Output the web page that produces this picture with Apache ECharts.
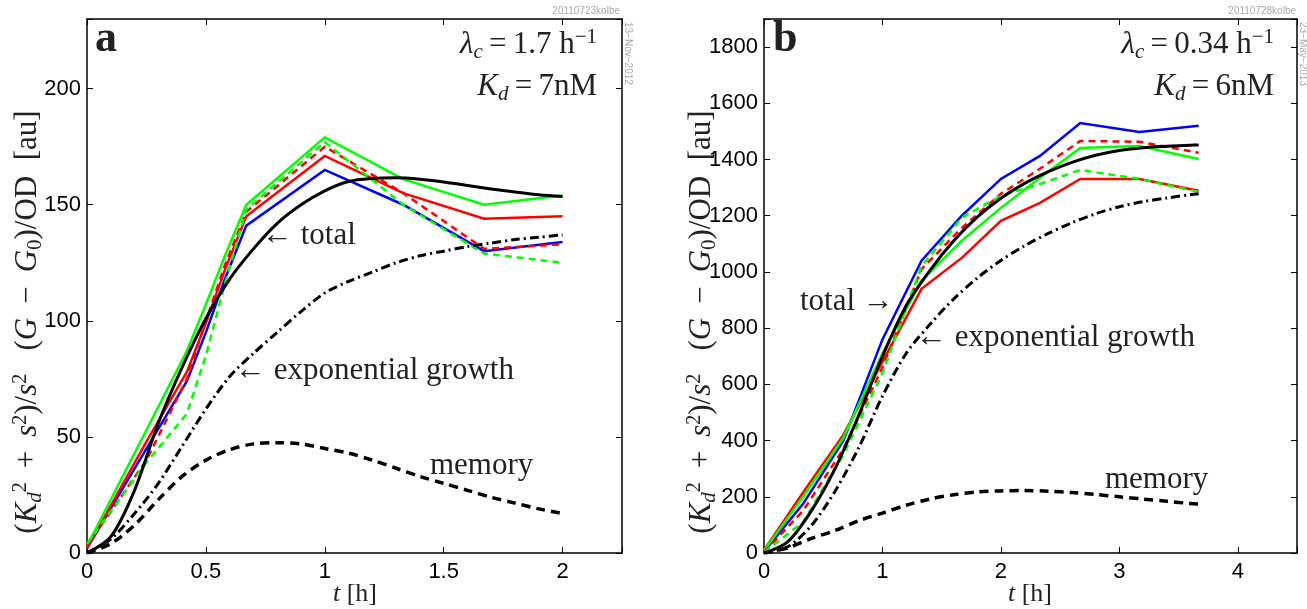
<!DOCTYPE html>
<html>
<head>
<meta charset="utf-8">
<script src="https://cdn.jsdelivr.net/npm/echarts@6/dist/echarts.min.js"></script>
<style>
html, body { margin: 0; background: #fff; }
#main { width: 1307px; height: 609px; }
</style>
</head>
<body>
<div id="main"></div>
<script>
// panel a: measured times and traces
var tA = [0, 0.25, 0.42, 0.5, 0.58, 0.67, 1.0, 1.33, 1.67, 2.0];
var aGreen = [3, 53, 87, 107, 128, 150, 179, 161, 150, 154];
var aBlue = [2, 45, 74, 95, 118, 141, 165, 150, 130, 134];
var aRed = [2, 48, 78, 99, 122, 145, 171, 155, 144, 145];
var aRedDash = [3, 40, 75, 100, 124, 147, 175, 155, 131, 133];
var aGreenDash = [4, 39, 60, 85, 116, 148, 177, 150, 129, 125];
// panel a: model curves
var tAm = [0, 0.1, 0.2, 0.3, 0.4, 0.5, 0.6, 0.7, 0.8, 0.9, 1.0, 1.1, 1.2, 1.3, 1.4, 1.5, 1.6, 1.7, 1.8, 1.9, 2.0];
var aTotal = [0, 7, 27, 56, 80, 101, 118, 131, 142, 150, 156, 160, 161.3, 161.6, 161, 159.8, 158.3, 156.8, 155.5, 154.3, 153.5];
var aExp = [0, 6, 17, 30, 46, 62, 76, 86, 95, 104, 112, 117, 121, 125, 128, 130, 132, 133.5, 135, 136, 137];
var aMem = [0, 4, 12, 23, 33, 40, 44.5, 47, 47.5, 47, 45, 43, 40, 36.5, 33, 30, 27, 24, 21.5, 19, 17];

// panel b: measured times and traces
var tB = [0, 0.33, 0.67, 1.0, 1.33, 1.67, 2.0, 2.33, 2.67, 3.17, 3.67];
var bBlue = [5, 175, 400, 760, 1040, 1200, 1331, 1413, 1530, 1498, 1520];
var bRed = [10, 215, 420, 680, 940, 1050, 1182, 1246, 1331, 1331, 1289];
var bGreen = [8, 200, 410, 710, 969, 1111, 1228, 1335, 1441, 1448, 1402];
var bRedDash = [3, 150, 370, 660, 1010, 1157, 1278, 1367, 1466, 1463, 1424];
var bGreenDash = [2, 110, 350, 640, 1020, 1193, 1271, 1313, 1363, 1331, 1285];
// panel b: model curves
var tBm = [0, 0.2, 0.4, 0.6, 0.8, 1.0, 1.2, 1.4, 1.6, 1.8, 2.0, 2.2, 2.4, 2.6, 2.8, 3.0, 3.2, 3.4, 3.6, 3.67];
var bTotal = [0, 40, 150, 300, 490, 700, 880, 1005, 1110, 1195, 1262, 1315, 1357, 1390, 1415, 1432, 1442, 1447, 1451, 1452];
var bExp = [0, 22, 98, 220, 375, 558, 710, 813, 903, 978, 1041, 1093, 1137, 1175, 1207, 1232, 1250, 1263, 1275, 1278];
var bMem = [0, 18, 52, 80, 115, 142, 170, 192, 207, 217, 221, 222, 220, 215, 208, 200, 192, 184, 176, 174];

var serif = 'Liberation Serif';
var sans = 'Liberation Sans';

function pairs(ts, vs) {
    return ts.map(function (t, i) { return [t, vs[i]]; });
}

function line(idx, ts, vs, color, width, dash, smooth) {
    return {
        type: 'line',
        xAxisIndex: idx * 2,
        yAxisIndex: idx * 2,
        data: pairs(ts, vs),
        showSymbol: false,
        smooth: smooth ? 0.3 : false,
        animation: false,
        silent: true,
        lineStyle: { color: color, width: width, type: dash || 'solid', cap: 'butt', join: 'miter' }
    };
}

function labelFmt(step) {
    return function (v) {
        var r = Math.abs(v / step - Math.round(v / step));
        return r < 1e-6 ? String(+v.toFixed(2)) : '';
    };
}

function axisBase(grid, max, step) {
    return {
        type: 'value', gridIndex: grid, min: 0, max: max, interval: step,
        axisLine: { show: true, onZero: false, lineStyle: { color: '#000', width: 1.5 } },
        axisTick: { show: true, inside: true, length: 6, lineStyle: { color: '#000', width: 1 } },
        splitLine: { show: false }
    };
}

function xAxes(grid, max, step) {
    var bottom = Object.assign(axisBase(grid, max, step), {
        position: 'bottom',
        axisLabel: { show: true, margin: 8, color: '#000', fontFamily: sans, fontSize: 22, formatter: labelFmt(step) }
    });
    var top = Object.assign(axisBase(grid, max, step), { position: 'top', axisLabel: { show: false } });
    return [bottom, top];
}

function yAxes(grid, max, step) {
    var left = Object.assign(axisBase(grid, max, step), {
        position: 'left',
        axisLabel: { show: true, margin: 6, color: '#000', fontFamily: sans, fontSize: 22, formatter: labelFmt(step) }
    });
    var right = Object.assign(axisBase(grid, max, step), { position: 'right', axisLabel: { show: false } });
    return [left, right];
}

function tok(size, italic, pad) {
    return { fontFamily: serif, fontSize: size, fontStyle: italic ? 'italic' : 'normal', color: '#222', padding: pad || 0 };
}

var rich = {
    // axis titles
    r: tok(31), i: tok(31, true),
    sub: tok(21, true, [15, 0, 0, 0]), subr: tok(21, false, [15, 0, 0, 0]), sup: tok(20, false, [0, 0, 15, 0]),
    xr: tok(26), xi: tok(26, true),
    // panel parameters
    R: tok(31), I: tok(31, true),
    SUB: tok(21, true, [15, 0, 0, 0]), SUP: tok(21, false, [0, 0, 15, 0])
};

function txt(x, y, text, opts) {
    opts = opts || {};
    return {
        type: 'text', x: x, y: y, rotation: opts.rot || 0, silent: true,
        style: {
            text: text, rich: rich,
            fontFamily: opts.font || serif, fontSize: opts.size || 31, fontWeight: opts.weight || 'normal',
            fill: opts.color || '#222',
            textAlign: opts.align || 'left', textVerticalAlign: 'middle'
        }
    };
}

var thin = '\u2009';
var yTitle = '{r|(}{i|K}{sub|d}{sup|2}{r| ' + thin + '+' + thin + ' }{i|s}{sup|2}{r|)/}{i|s}{sup|2}{r|   (}{i|G}{r| ' + thin + '−' + thin + ' }{i|G}{subr|0}{r|)/OD  [au]}';
var xTitle = '{xi|t}{xr| [h]}';

var graphics = [
    txt(95, 40, 'a', { size: 44, weight: 'bold' }),
    txt(597, 45, '{I|λ}{SUB|c}{R|' + thin + '=' + thin + '1.7 h}{SUP|−1}', { align: 'right' }),
    txt(597, 87, '{I|K}{SUB|d}{R|' + thin + '=' + thin + '7nM}', { align: 'right' }),
    txt(262, 236, '← total', {}),
    txt(235, 371, '← exponential growth', {}),
    txt(430, 466, 'memory', {}),
    txt(773, 40, 'b', { size: 44, weight: 'bold' }),
    txt(1274, 45, '{I|λ}{SUB|c}{R|' + thin + '=' + thin + '0.34 h}{SUP|−1}', { align: 'right' }),
    txt(1274, 87, '{I|K}{SUB|d}{R|' + thin + '=' + thin + '6nM}', { align: 'right' }),
    txt(800, 302, 'total →', {}),
    txt(916, 338, '← exponential growth', {}),
    txt(1105, 480, 'memory', {}),
    txt(28, 322, yTitle, { rot: Math.PI / 2, align: 'center' }),
    txt(702, 322, yTitle, { rot: Math.PI / 2, align: 'center' }),
    txt(355, 594, xTitle, { align: 'center' }),
    txt(1030, 594, xTitle, { align: 'center' }),
    txt(620, 11, '20110723kolbe', { font: sans, size: 10, color: '#aaa', align: 'right' }),
    txt(628, 22, '13−Nov−2012', { font: sans, size: 10, color: '#aaa', rot: -Math.PI / 2 }),
    txt(1296, 11, '20110728kolbe', { font: sans, size: 10, color: '#aaa', align: 'right' }),
    txt(1303, 22, '23−May−2013', { font: sans, size: 10, color: '#aaa', rot: -Math.PI / 2 })
];

var xa = xAxes(0, 2.25, 0.5).concat(xAxes(1, 4.5, 1));
var ya = yAxes(0, 230, 50).concat(yAxes(1, 1900, 200));

var dashed = [7, 5];
var green = '#00ff00';
var series = [
    line(0, tA, aBlue, '#0000ff', 2.5),
    line(0, tA, aRed, '#ff0000', 2.5),
    line(0, tA, aGreen, green, 2.5),
    line(0, tA, aRedDash, '#ff0000', 2.5, dashed),
    line(0, tA, aGreenDash, green, 2.5, dashed),
    line(0, tAm, aExp, '#000', 3, [9, 4, 2, 4], true),
    line(0, tAm, aMem, '#000', 3.5, [9, 6], true),
    line(0, tAm, aTotal, '#000', 3, 'solid', true),
    line(1, tB, bBlue, '#0000ff', 2.5),
    line(1, tB, bRed, '#ff0000', 2.5),
    line(1, tB, bGreen, green, 2.5),
    line(1, tB, bRedDash, '#ff0000', 2.5, dashed),
    line(1, tB, bGreenDash, green, 2.5, dashed),
    line(1, tBm, bExp, '#000', 3, [9, 4, 2, 4], true),
    line(1, tBm, bMem, '#000', 3.5, [9, 6], true),
    line(1, tBm, bTotal, '#000', 3, 'solid', true)
];

var myChart = echarts.init(document.getElementById('main'), null, { renderer: 'canvas' });
myChart.setOption({
    backgroundColor: '#fff',
    animation: false,
    grid: [
        { left: 87, top: 19, width: 535, height: 534 },
        { left: 764, top: 19, width: 533, height: 534 }
    ],
    xAxis: xa,
    yAxis: ya,
    series: series,
    graphic: graphics
});
</script>
</body>
</html>
